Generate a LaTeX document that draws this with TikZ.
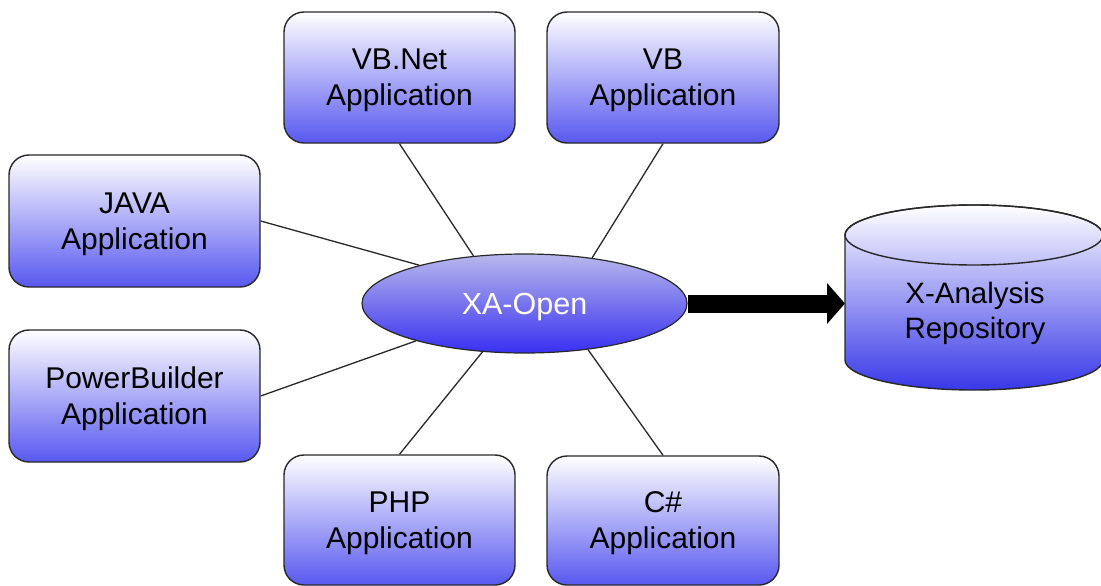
\documentclass[tikz,border=0pt]{standalone}
\usepackage{fontspec}
\setmainfont{Liberation Sans}
\usetikzlibrary{shapes.geometric,arrows.meta,backgrounds}
\definecolor{boxblue}{RGB}{88,88,240}
\definecolor{ellTop}{RGB}{184,184,236}
\definecolor{ellBot}{RGB}{56,48,240}
\definecolor{cylblue}{RGB}{56,56,232}
\definecolor{edge}{RGB}{40,40,40}
\tikzset{
  appbox/.style={draw=edge, line width=1.4pt, rounded corners=20pt, top color=white, bottom color=boxblue,
    align=center, inner sep=0pt, text depth=-4pt, font=\fontsize{30}{36}\selectfont},
  hub/.style={ellipse, draw=edge, line width=1.2pt, top color=ellTop, bottom color=ellBot, inner sep=0pt,
    minimum width=325pt, minimum height=99pt, text=white, text depth=0pt, font=\fontsize{30.5}{36}\selectfont},
  link/.style={draw=edge, line width=1.3pt},
  bigarrow/.style={line width=18pt, -{Triangle[length=18pt,width=40pt]}},
}
\begin{document}
\begin{tikzpicture}[x=1pt,y=1pt]
\useasboundingbox (0,0) rectangle (1101,-586);
% application boxes
\node[appbox, minimum width=231pt, minimum height=131pt] (vbnet) at (399.5,-77.5) {VB.Net\\Application};
\node[appbox, minimum width=232pt, minimum height=131pt] (vb) at (663,-77.5) {VB\\Application};
\node[appbox, minimum width=251pt, minimum height=132pt] (java) at (134.5,-221) {JAVA\\Application};
\node[appbox, minimum width=251pt, minimum height=132pt] (pb) at (134.5,-396) {PowerBuilder\\Application};
\node[appbox, minimum width=231pt, minimum height=130pt] (php) at (399.5,-520) {PHP\\Application};
\node[appbox, minimum width=232pt, minimum height=129pt] (cs) at (663,-520.5) {C\#\\Application};
% hub
\node[hub] (xa) at (524.5,-303.5) {XA-Open};
% repository cylinder
\shade[top color=white, bottom color=cylblue, draw=edge, line width=1.4pt]
  (845,-235) -- (845,-360) arc[start angle=180, end angle=360, x radius=129, y radius=30]
  -- (1103,-235) arc[start angle=0, end angle=180, x radius=129, y radius=30] -- cycle;
\draw[draw=edge, line width=1.4pt] (974,-235) ellipse [x radius=129, y radius=30];
\node[font=\fontsize{29.5}{35}\selectfont, align=center, inner sep=0pt] (repo) at (975,-313.5) {X-Analysis\\Repository};
\coordinate (repoW) at (845,-303.5);
% connectors
\begin{scope}[on background layer]
\draw[link] (vbnet.south) -- (xa.137.3);
\draw[link] (vb.south) -- (xa.34.2);
\draw[link] (java.east) -- (xa.160.1);
\draw[link] (pb.east) -- (xa.199.7);
\draw[link] (php.north) -- (xa.229.4);
\draw[link] (cs.north) -- (xa.324.6);
\draw[bigarrow] (xa.east) -- (repoW);
\end{scope}
\end{tikzpicture}
\end{document}
